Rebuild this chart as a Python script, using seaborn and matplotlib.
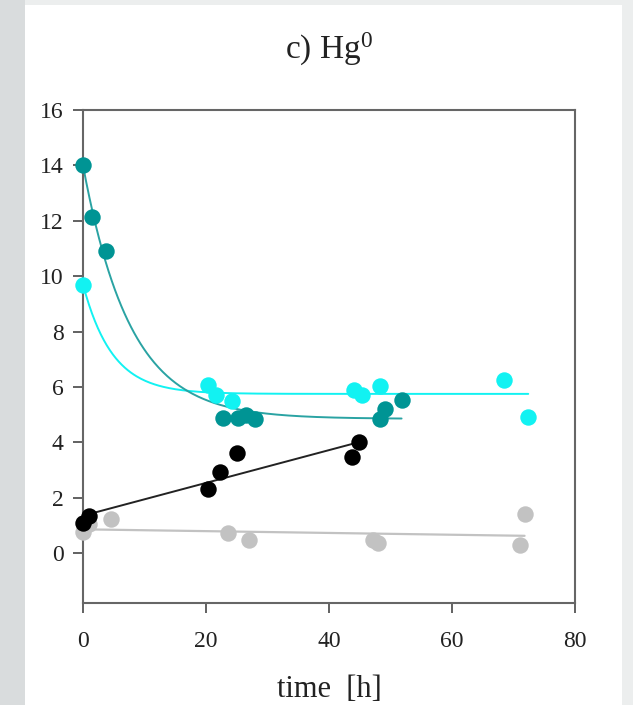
import numpy as np
import pandas as pd
import matplotlib.pyplot as plt
import seaborn as sns
from matplotlib.patches import Rectangle

teal_t = [0, 1.5, 3.7, 22.8, 25.2, 26.5, 28.0, 48.3, 49.1, 51.9]
teal_y = [14.0, 12.13, 10.9, 4.87, 4.87, 4.98, 4.84, 4.84, 5.2, 5.52]

cyan_t = [0, 20.4, 21.6, 24.2, 44.1, 45.3, 48.3, 68.5, 72.3]
cyan_y = [9.67, 6.06, 5.70, 5.49, 5.88, 5.70, 6.04, 6.25, 4.90]

black_t = [0, 1.0, 20.3, 22.2, 25.1, 43.7, 44.9]
black_y = [1.09, 1.34, 2.30, 2.94, 3.62, 3.48, 4.0]

grey_t = [0, 1.0, 4.55, 23.6, 27.0, 47.1, 47.9, 71.8, 71.1]
grey_y = [0.75, 1.05, 1.22, 0.71, 0.47, 0.47, 0.37, 1.43, 0.31]

# exponential decay fits: plateau, amplitude, rate, end time
teal_fit = dict(c=4.85, a=9.15, k=0.13, t_end=51.8)
cyan_fit = dict(c=5.75, a=3.95, k=0.21, t_end=72.4)

x_ticks = [0, 20, 40, 60, 80]
y_ticks = [0, 2, 4, 6, 8, 10, 12, 14, 16]

TEAL = "#009494"
TEAL_LINE = "#2aa3a3"
CYAN = "#12f2f2"
GREY = "#c2c2c2"

sns.set_theme(style="ticks")
plt.rcParams["font.family"] = ["Liberation Serif", "DejaVu Serif"]
plt.rcParams["mathtext.fontset"] = "custom"
plt.rcParams["mathtext.rm"] = "Liberation Serif"
plt.rcParams["mathtext.it"] = "Liberation Serif:italic"

fig = plt.figure(figsize=(6.33, 7.05), dpi=100, facecolor="#eceeee")
# white page area and grey strip on the left
fig.patches.append(Rectangle((0, 0), 25 / 633, 1, transform=fig.transFigure,
                             facecolor="#d9dcdd", edgecolor="none", zorder=-2))
fig.patches.append(Rectangle((25 / 633, 0), 597 / 633, 700 / 705, transform=fig.transFigure,
                             facecolor="white", edgecolor="none", zorder=-1))

ax = fig.add_axes([83 / 633, 1 - 603 / 705, 492 / 633, 493 / 705])
ax.set_facecolor("none")


def decay_curve(fit):
    t = np.linspace(0, fit["t_end"], 300)
    return pd.DataFrame({"t": t, "y": fit["c"] + fit["a"] * np.exp(-fit["k"] * t)})


teal_curve = decay_curve(teal_fit)
cyan_curve = decay_curve(cyan_fit)
sns.lineplot(data=cyan_curve, x="t", y="y", color=CYAN, lw=1.4, ax=ax, zorder=2)
sns.lineplot(data=teal_curve, x="t", y="y", color=TEAL_LINE, lw=1.4, ax=ax, zorder=2)

black_df = pd.DataFrame({"t": black_t, "y": black_y})
grey_df = pd.DataFrame({"t": grey_t, "y": grey_y})
sns.regplot(data=grey_df, x="t", y="y", scatter=False, ci=None, ax=ax,
            line_kws=dict(color=GREY, lw=1.6, zorder=2))
sns.regplot(data=black_df, x="t", y="y", scatter=False, ci=None, ax=ax,
            line_kws=dict(color="#222222", lw=1.4, zorder=2))

pt = dict(s=140, linewidth=0, clip_on=False, zorder=3, ax=ax)
sns.scatterplot(x=grey_t, y=grey_y, color=GREY, **pt)
sns.scatterplot(x=cyan_t, y=cyan_y, color=CYAN, **pt)
sns.scatterplot(x=teal_t, y=teal_y, color=TEAL, **pt)
sns.scatterplot(x=black_t, y=black_y, color="black", **pt)

ax.set_xlim(0, 80)
ax.set_ylim(-1.8, 16)
ax.set_xticks(x_ticks)
ax.set_yticks(y_ticks)
ax.tick_params(axis="both", direction="out", length=7, width=1.3, color="#555555",
               labelsize=17, labelcolor="#222222")
ax.tick_params(axis="x", pad=13)
ax.tick_params(axis="y", pad=7)
for sp in ax.spines.values():
    sp.set_color("#666666")
    sp.set_linewidth(1.5)

ax.set_xlabel("time  [h]", fontsize=22, color="#222222", labelpad=17)
ax.set_ylabel("")
ax.set_title(r"c) Hg$^{\mathrm{0}}$", fontsize=24, color="#222222", pad=37)

fig.savefig("out.png", dpi=100, facecolor=fig.get_facecolor())
